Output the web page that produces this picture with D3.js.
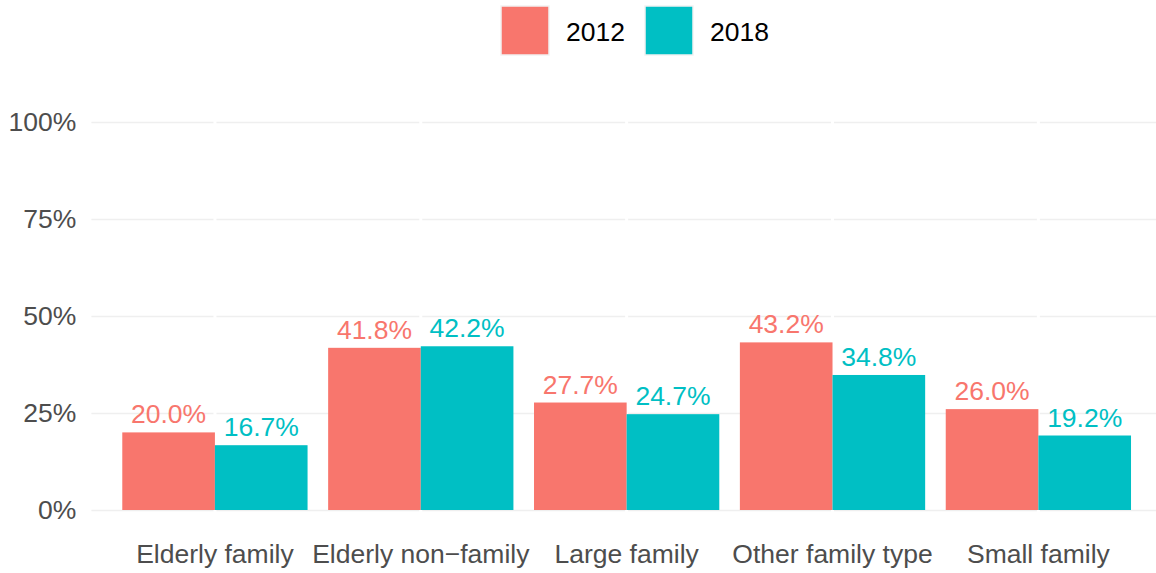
<!DOCTYPE html>
<html>
<head>
<meta charset="utf-8">
<script src="https://cdn.jsdelivr.net/npm/d3@7"></script>
<style>
  body { margin: 0; background: #fff; }
  svg text { font-family: "Liberation Sans", Arial, sans-serif; }
</style>
</head>
<body>
<svg id="chart" width="1156" height="573"></svg>
<script>
// donnees
const categories = ["Elderly family", "Elderly non\u2212family", "Large family", "Other family type", "Small family"];
const years = ["2012", "2018"];
const values2012 = [20.0, 41.8, 27.7, 43.2, 26.0];
const values2018 = [16.7, 42.2, 24.7, 34.8, 19.2];
const yTicks = [0, 25, 50, 75, 100];
const colors = ["#F8766D", "#00BFC4"];

const svgWidth = 1156, svgHeight = 573;
const svg = d3.select("#chart");

// zone du panel
const panel = { left: 91.4, right: 1161.9, top: 120, bottom: 510 };

const series = years.map((y, i) => ({ year: y, values: i === 0 ? values2012 : values2018 }));

const scaleX = d3.scaleBand()
    .domain(categories)
    .range([panel.left, panel.right])
    .paddingInner(0.1)
    .paddingOuter(0.15);

const scaleInner = d3.scaleBand()
    .domain(years)
    .range([0, scaleX.bandwidth()])
    .padding(0);

const scaleY = d3.scaleLinear()
    .domain([0, 100])
    .range([panel.bottom, panel.top + 2]);

const scaleColor = d3.scaleOrdinal().domain(years).range(colors);

// lignes horizontales
const yAxis = svg.append("g")
    .attr("class", "yaxis")
    .attr("transform", `translate(${panel.left}, 0)`)
    .call(d3.axisLeft(scaleY).tickValues(yTicks).tickFormat(d => d + "%").tickSize(0).tickPadding(15));

yAxis.select(".domain").remove();
yAxis.selectAll(".tick line")
    .attr("x2", svgWidth - panel.left)
    .attr("stroke", "#efefef")
    .attr("stroke-width", 1.5);
yAxis.selectAll(".tick text")
    .attr("fill", "#4d4d4d")
    .style("font-size", "26.5px");

// lignes verticales blanches au centre des categories
svg.append("g")
    .selectAll("line")
    .data(categories)
    .enter()
    .append("line")
    .attr("x1", d => scaleX(d) + scaleX.bandwidth() / 2)
    .attr("x2", d => scaleX(d) + scaleX.bandwidth() / 2)
    .attr("y1", panel.top - 5)
    .attr("y2", panel.bottom + 5)
    .attr("stroke", "#fff")
    .attr("stroke-width", 3);

// barres
const groups = svg.append("g")
    .selectAll("g")
    .data(series)
    .enter()
    .append("g")
    .attr("fill", d => scaleColor(d.year));

groups.selectAll("rect")
    .data(s => s.values.map((v, i) => ({ year: s.year, cat: categories[i], value: v })))
    .enter()
    .append("rect")
    .attr("x", d => scaleX(d.cat) + scaleInner(d.year))
    .attr("width", scaleInner.bandwidth())
    .attr("y", d => scaleY(d.value))
    .attr("height", d => scaleY(0) - scaleY(d.value));

groups.selectAll("text")
    .data(s => s.values.map((v, i) => ({ year: s.year, cat: categories[i], value: v })))
    .enter()
    .append("text")
    .attr("x", d => scaleX(d.cat) + scaleInner(d.year) + scaleInner.bandwidth() / 2)
    .attr("y", d => scaleY(d.value) - 9)
    .attr("text-anchor", "middle")
    .style("font-size", "26.5px")
    .attr("fill", d => scaleColor(d.year))
    .text(d => d.value.toFixed(1) + "%");

// axe x
const xAxis = svg.append("g")
    .attr("class", "xaxis")
    .attr("transform", `translate(0, ${panel.bottom})`)
    .call(d3.axisBottom(scaleX).tickSize(0).tickPadding(34));

xAxis.select(".domain").remove();
xAxis.selectAll(".tick text")
    .attr("fill", "#4d4d4d")
    .style("font-size", "26.5px");

// legende
const legend = svg.append("g").attr("class", "legend");
const legendX = [501, 645];
years.forEach((y, i) => {
    legend.append("rect")
        .attr("x", legendX[i])
        .attr("y", 6)
        .attr("width", 48)
        .attr("height", 49)
        .attr("fill", scaleColor(y))
        .attr("stroke", "#f2f2f2")
        .attr("stroke-width", 1.5);
    legend.append("text")
        .attr("x", legendX[i] + 65)
        .attr("y", 41)
        .attr("fill", "#000")
        .style("font-size", "26.5px")
        .text(y);
});
</script>
</body>
</html>
